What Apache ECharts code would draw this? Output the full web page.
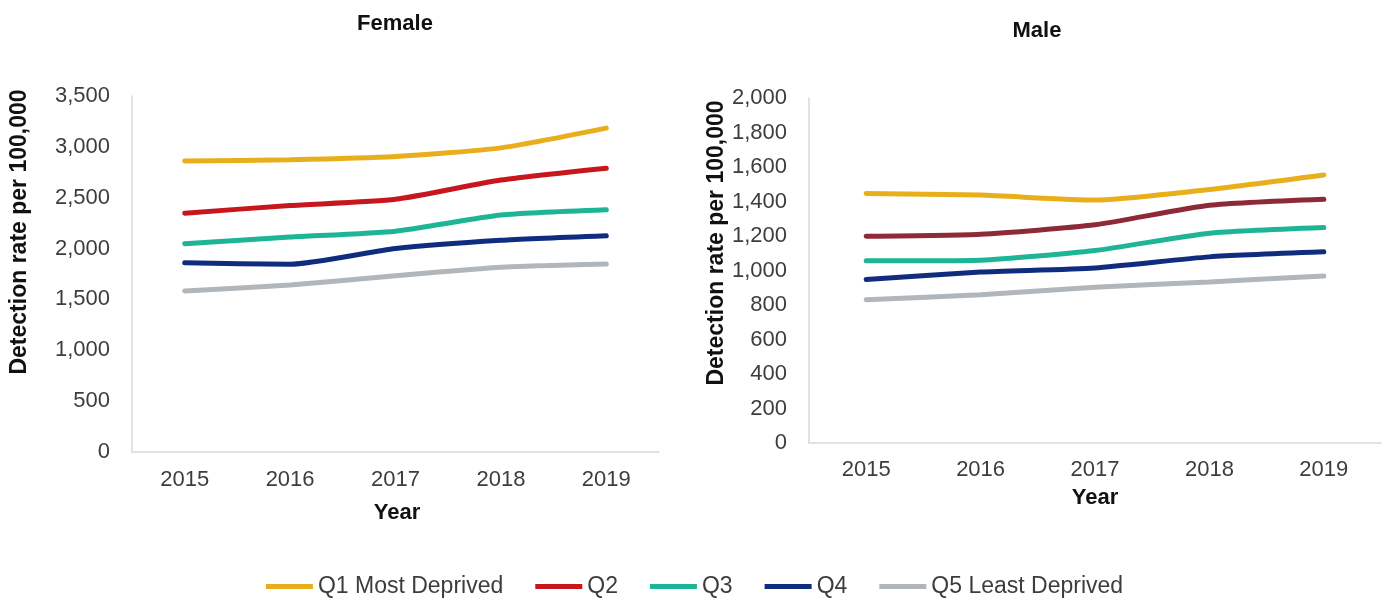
<!DOCTYPE html>
<html>
<head>
<meta charset="utf-8">
<script src="https://cdn.jsdelivr.net/npm/echarts@6/dist/echarts.min.js"></script>
<style>
  html, body { margin: 0; padding: 0; background: #fff; }
  #chart { width: 1389px; height: 601px; }
</style>
</head>
<body>
<div id="chart"></div>
<script>
// categories
const years = ['2015', '2016', '2017', '2018', '2019'];
const groups = ['Q1 Most Deprived', 'Q2', 'Q3', 'Q4', 'Q5 Least Deprived'];

// female detection rate per 100,000
const femaleQ1 = [2861, 2874, 2906, 2990, 3184];
const femaleQ2 = [2348, 2423, 2484, 2674, 2790];
const femaleQ3 = [2048, 2113, 2171, 2329, 2381];
const femaleQ4 = [1861, 1845, 2000, 2081, 2126];
const femaleQ5 = [1584, 1642, 1732, 1816, 1848];

// male detection rate per 100,000
const maleQ1 = [1447, 1437, 1408, 1470, 1554];
const maleQ2 = [1198, 1210, 1265, 1378, 1413];
const maleQ3 = [1056, 1060, 1116, 1216, 1249];
const maleQ4 = [948, 991, 1015, 1079, 1108];
const maleQ5 = [831, 860, 903, 934, 968];

const femaleColors = ['#E9AE1B', '#C8161E', '#1DB595', '#102C7E', '#B1B6BB'];
const maleColors = ['#E9AE1B', '#8E2A38', '#1DB595', '#102C7E', '#B1B6BB'];

const font = 'Liberation Sans, Arial, sans-serif';
const axisGray = '#d9d9d9';
const labelGray = '#3d3d3d';

const chart = echarts.init(document.getElementById('chart'));

function makeSeries(dataList, colors, idx) {
  return dataList.map((d, i) => ({
    name: groups[i],
    type: 'line',
    xAxisIndex: idx,
    yAxisIndex: idx,
    data: d,
    smooth: 0.2,
    showSymbol: false,
    symbol: 'none',
    color: colors[i],
    lineStyle: { width: 5, color: colors[i], cap: 'round' },
    animation: false
  }));
}

function xAxisOf(idx, margin) {
  return {
    type: 'category',
    gridIndex: idx,
    data: years,
    boundaryGap: true,
    axisLine: { lineStyle: { color: axisGray, width: 1.5 } },
    axisTick: { show: false },
    axisLabel: { color: labelGray, fontSize: 22, fontFamily: font, margin: margin }
  };
}

function yAxisOf(idx, max, interval) {
  return {
    type: 'value',
    gridIndex: idx,
    min: 0,
    max: max,
    interval: interval,
    axisLine: { show: true, lineStyle: { color: axisGray, width: 1.5 } },
    axisTick: { show: false },
    splitLine: { show: false },
    axisLabel: {
      color: labelGray, fontSize: 22, fontFamily: font, margin: 22,
      formatter: v => v.toLocaleString('en-US')
    }
  };
}

const option = {
  backgroundColor: '#fff',
  textStyle: { fontFamily: font },
  title: [
    { text: 'Female', left: 390, top: 8, textAlign: 'center',
      textStyle: { fontSize: 22, fontWeight: 'bold', color: '#111', fontFamily: font } },
    { text: 'Male', left: 1032, top: 15, textAlign: 'center',
      textStyle: { fontSize: 22, fontWeight: 'bold', color: '#111', fontFamily: font } }
  ],
  legend: {
    data: groups,
    left: 'center',
    top: 570,
    icon: 'rect',
    itemWidth: 47,
    itemHeight: 5,
    itemGap: 32,
    textStyle: { color: labelGray, fontSize: 23, fontFamily: font }
  },
  grid: [
    { left: 132, top: 96, right: 730, bottom: 149 },
    { left: 809, top: 98, right: 8, bottom: 158 }
  ],
  xAxis: [xAxisOf(0, 17), xAxisOf(1, 16)],
  yAxis: [yAxisOf(0, 3500, 500), yAxisOf(1, 2000, 200)],
  graphic: [
    { type: 'text', x: 20, y: 232, rotation: Math.PI / 2,
      style: { text: 'Detection rate per 100,000', fontSize: 23, fontWeight: 'bold',
        fill: '#111', fontFamily: font, align: 'center', verticalAlign: 'middle' } },
    { type: 'text', x: 717, y: 243, rotation: Math.PI / 2,
      style: { text: 'Detection rate per 100,000', fontSize: 23, fontWeight: 'bold',
        fill: '#111', fontFamily: font, align: 'center', verticalAlign: 'middle' } },
    { type: 'text', x: 397, y: 513,
      style: { text: 'Year', fontSize: 22, fontWeight: 'bold', fill: '#111',
        fontFamily: font, align: 'center', verticalAlign: 'middle' } },
    { type: 'text', x: 1095, y: 498,
      style: { text: 'Year', fontSize: 22, fontWeight: 'bold', fill: '#111',
        fontFamily: font, align: 'center', verticalAlign: 'middle' } }
  ],
  series: [
    ...makeSeries([femaleQ1, femaleQ2, femaleQ3, femaleQ4, femaleQ5], femaleColors, 0),
    ...makeSeries([maleQ1, maleQ2, maleQ3, maleQ4, maleQ5], maleColors, 1)
  ]
};

chart.setOption(option);
</script>
</body>
</html>
